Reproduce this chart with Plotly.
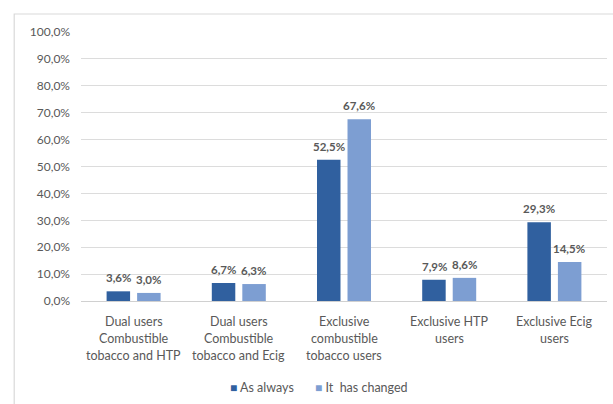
import plotly.graph_objects as go

categories = [
    "Dual users<br>Combustible<br>tobacco and HTP",
    "Dual users<br>Combustible<br>tobacco and Ecig",
    "Exclusive<br>combustible<br>tobacco users",
    "Exclusive HTP<br>users",
    "Exclusive Ecig<br>users",
]
as_always = [3.6, 6.7, 52.5, 7.9, 29.3]
has_changed = [3.0, 6.3, 67.6, 8.6, 14.5]
y_ticks = [0, 10, 20, 30, 40, 50, 60, 70, 80, 90, 100]

TEXT = "#595959"
FONT = "Lato"
DARK = "#30609F"
LIGHT = "#7D9ED2"


def pct(v):
    return f"{v:.1f}%".replace(".", ",")


series = [("As always", as_always, DARK, -15), ("It  has changed", has_changed, LIGHT, 15)]

fig = go.Figure()
annotations = []
for name, vals, color, dx in series:
    fig.add_bar(name=name, x=categories, y=vals,
                marker=dict(color=color, line=dict(width=0)))
    # value labels above each bar
    for cat, v in zip(categories, vals):
        annotations.append(dict(
            x=cat, y=v, xref="x", yref="y", text=pct(v), showarrow=False,
            xshift=dx, yanchor="bottom", yshift=5,
            font=dict(size=11.5, color=TEXT, family=FONT, weight="bold"),
        ))

# multi-line category labels under the axis
for cat in categories:
    for i, line in enumerate(cat.split("<br>")):
        annotations.append(dict(
            x=cat, y=0, xref="x", yref="paper", text=line, showarrow=False,
            yanchor="middle", yshift=-20 - 17 * i,
            font=dict(size=12.5, color=TEXT, family=FONT),
        ))

# legend row
for (name, _, color, _), px in zip(series, [0.28, 0.442]):
    annotations.append(dict(
        x=px, y=0, xref="paper", yref="paper", xanchor="left", yanchor="middle",
        yshift=-86, showarrow=False,
        text=f"<span style='color:{color};font-size:12px'>■</span> {name.replace('  ', '&nbsp; ')}",
        font=dict(size=12.5, color=TEXT, family=FONT),
    ))

fig.update_layout(
    width=613, height=404,
    margin=dict(l=81, r=6, t=32, b=103),
    paper_bgcolor="white", plot_bgcolor="white",
    barmode="group", bargap=0.42, bargroupgap=0.23,
    font=dict(family=FONT, color=TEXT, size=11),
    showlegend=False,
    annotations=annotations,
    shapes=[
        dict(type="rect", xref="paper", yref="paper",
             x0=-0.127, x1=1.2, y0=-0.5, y1=1.067,
             line=dict(color="#D9D9D9", width=1.2), layer="below"),
    ],
)

fig.update_yaxes(
    range=[0, 100], tickvals=y_ticks, ticktext=[pct(t) for t in y_ticks],
    showgrid=True, gridcolor="#DCDCDC", gridwidth=1.2,
    zeroline=False, showline=False, ticks="", ticklabelstandoff=10,
    tickfont=dict(size=12, color=TEXT, family=FONT),
)
fig.update_xaxes(
    showgrid=False, showline=True, linecolor="#D0D0D0", linewidth=1.2,
    ticks="", showticklabels=False,
)

fig.write_html("out.html")
